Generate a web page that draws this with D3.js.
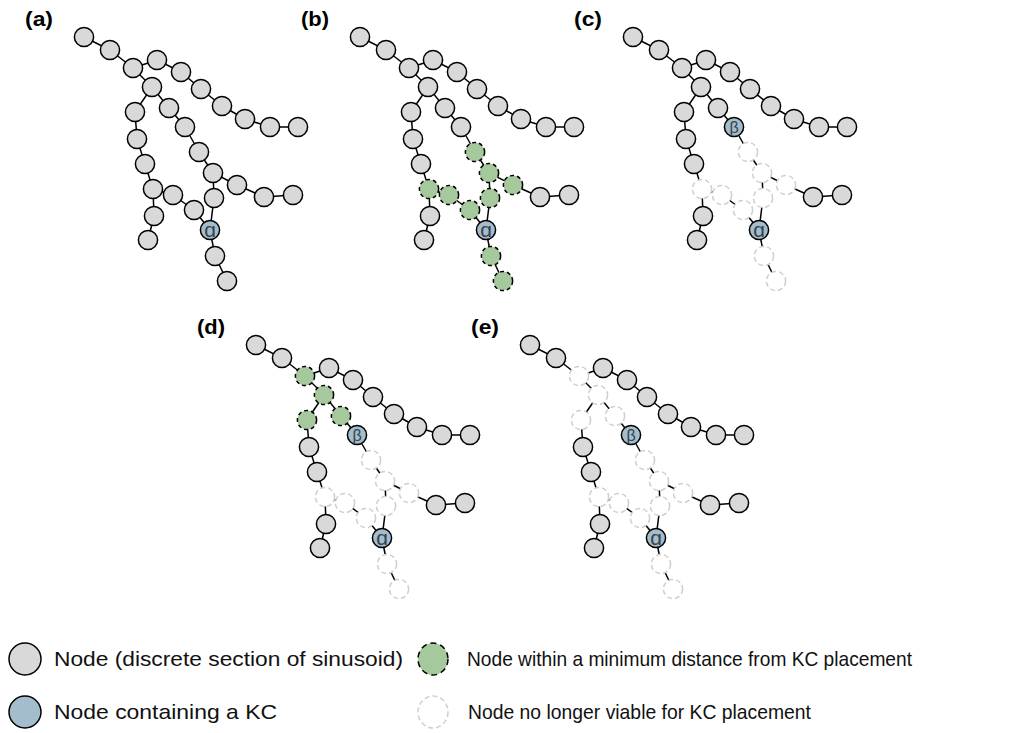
<!DOCTYPE html>
<html>
<head>
<meta charset="utf-8">
<script src="https://cdn.jsdelivr.net/npm/d3@7"></script>
<style>
  body { margin: 0; background: #fff; }
  svg { display: block; font-family: "Liberation Sans", Arial, Helvetica, sans-serif; }
</style>
</head>
<body>
<svg></svg>
<script>
const width = 1017
const height = 733

// node layout of the tree (in the coordinate space of panel a)
const nodeX = [84, 110, 133, 157, 181, 201, 222, 245, 270, 298,
               152, 135, 137, 145, 153, 154, 148, 173, 194, 210,
               215, 227, 169, 185, 199, 213, 214, 237, 264, 293]
const nodeY = [37, 50, 68, 60, 72, 89, 106, 119, 127, 127,
               87, 112, 139, 164, 189, 216, 240, 195, 210, 230,
               256, 281, 108, 127, 152, 173, 198, 185, 197, 195]

// edges, 1-based node numbers
const edges = [
  [1, 2], [2, 3], [3, 4], [4, 5], [5, 6], [6, 7], [7, 8], [8, 9], [9, 10],
  [3, 11], [11, 12], [12, 13], [13, 14], [14, 15], [15, 16], [16, 17],
  [15, 18], [18, 19], [19, 20], [20, 21], [21, 22],
  [11, 23], [23, 24], [24, 25], [25, 26], [26, 27], [27, 20],
  [26, 28], [28, 29], [29, 30]
]

const kcLabels = { 20: "ɑ", 24: "β" }

// one entry per panel
const panelNames = ["(a)", "(b)", "(c)", "(d)", "(e)"]
const panelDx = [0, 276, 549, 172, 446]
const panelDy = [0, 0, 0, 308, 308]
const panelKC = [[20], [20], [20, 24], [20, 24], [20, 24]]
const panelNear = [[], [15, 18, 19, 21, 22, 25, 26, 27, 28], [], [3, 11, 12, 23], []]
const panelRemoved = [
  [],
  [],
  [15, 18, 19, 21, 22, 25, 26, 27, 28],
  [15, 18, 19, 21, 22, 25, 26, 27, 28],
  [15, 18, 19, 21, 22, 25, 26, 27, 28, 3, 11, 12, 23]
]

const legendItems = [
  { kind: "node", label: "Node (discrete section of sinusoid)" },
  { kind: "kc", label: "Node containing a KC" },
  { kind: "near", label: "Node within a minimum distance from KC placement" },
  { kind: "removed", label: "Node no longer viable for KC placement" }
]

const fill = { node: "#d9d9d9", kc: "#a3bdcd", near: "#a5c99c", removed: "#ffffff" }
const stroke = { node: "#000", kc: "#000", near: "#000", removed: "#cfcfcf" }
const dash = { node: null, kc: null, near: "4,3", removed: "5,3" }

const svg = d3.select("svg")
  .attr("width", width)
  .attr("height", height)

const r = 9.6

panelNames.forEach(function(name, p) {
  const x = d3.scaleLinear().domain([0, 1]).range([panelDx[p], panelDx[p] + 1])
  const y = d3.scaleLinear().domain([0, 1]).range([panelDy[p], panelDy[p] + 1])

  const nodes = nodeX.map(function(v, i) {
    const id = i + 1
    let kind = "node"
    if (panelKC[p].includes(id)) kind = "kc"
    else if (panelNear[p].includes(id)) kind = "near"
    else if (panelRemoved[p].includes(id)) kind = "removed"
    return { id: id, x: v, y: nodeY[i], kind: kind }
  })

  const g = svg.append("g").attr("class", "panel")

  g.append("text")
    .attr("x", x(25))
    .attr("y", y(26))
    .attr("font-size", 20)
    .attr("font-weight", "bold")
    .attr("textLength", 28)
    .attr("lengthAdjust", "spacingAndGlyphs")
    .text(name)

  g.append("g")
    .selectAll("line")
    .data(edges)
    .enter().append("line")
      .attr("x1", d => x(nodeX[d[0] - 1]))
      .attr("y1", d => y(nodeY[d[0] - 1]))
      .attr("x2", d => x(nodeX[d[1] - 1]))
      .attr("y2", d => y(nodeY[d[1] - 1]))
      .attr("stroke", "#000")
      .attr("stroke-width", 1.5)

  g.append("g")
    .selectAll("circle")
    .data(nodes)
    .enter().append("circle")
      .attr("cx", d => x(d.x))
      .attr("cy", d => y(d.y))
      .attr("r", r)
      .attr("fill", d => fill[d.kind])
      .attr("stroke", d => stroke[d.kind])
      .attr("stroke-width", 1.5)
      .attr("stroke-dasharray", d => dash[d.kind])

  g.append("g")
    .selectAll("text")
    .data(nodes.filter(d => d.kind === "kc"))
    .enter().append("text")
      .attr("x", d => x(d.x))
      .attr("y", d => y(d.y))
      .attr("text-anchor", "middle")
      .attr("dominant-baseline", "central")
      .attr("font-size", d => d.id === 20 ? 21 : 16)
      .attr("dy", d => d.id === 20 ? -1 : 0)
      .attr("fill", "#37424a")
      .text(d => kcLabels[d.id])
})

// legend, two columns of two rows
const legendX = [25, 433]
const legendY = [659, 712]
const legendTextX = [54, 467]
const legendTextLen = [349, 223, 445, 343]

const legend = svg.append("g").attr("class", "legend")
  .selectAll("g")
  .data(legendItems)
  .enter().append("g")

legend.append("ellipse")
  .attr("cx", (d, i) => legendX[Math.floor(i / 2)])
  .attr("cy", (d, i) => legendY[i % 2])
  .attr("rx", (d, i) => i < 2 ? 16 : 15)
  .attr("ry", 16)
  .attr("fill", d => fill[d.kind])
  .attr("stroke", d => stroke[d.kind])
  .attr("stroke-width", 1.5)
  .attr("stroke-dasharray", d => d.kind === "near" ? "6,4" : dash[d.kind])

legend.append("text")
  .attr("x", (d, i) => legendTextX[Math.floor(i / 2)] + (i === 3 ? 1 : 0))
  .attr("y", (d, i) => legendY[i % 2] + 7)
  .attr("font-size", 21)
  .attr("textLength", (d, i) => legendTextLen[i])
  .attr("lengthAdjust", "spacingAndGlyphs")
  .attr("fill", "#111")
  .text(d => d.label)
</script>
</body>
</html>
